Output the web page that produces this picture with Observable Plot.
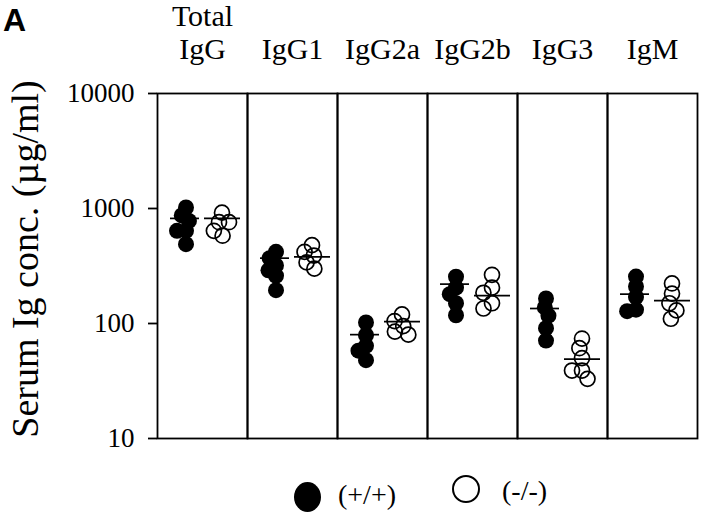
<!DOCTYPE html>
<html><head><meta charset="utf-8">
<script src="https://cdn.jsdelivr.net/npm/d3@7"></script>
<script src="https://cdn.jsdelivr.net/npm/@observablehq/plot@0.6"></script>
<style>
body{margin:0;background:#fff;}
#wrap{position:relative;width:720px;height:516px;font-family:"Liberation Serif",serif;color:#000;overflow:hidden;}
#wrap svg{position:absolute;left:0;top:0;}
.panelA{position:absolute;left:3px;top:2px;font:bold 32px "Liberation Sans",Arial,sans-serif;}
.ylab{position:absolute;left:25px;top:259px;transform:translate(-50%,-50%) rotate(-90deg);white-space:nowrap;font-size:38px;}
.leg{position:absolute;font-size:28px;white-space:nowrap;}
.sym{position:absolute;border-radius:50%;box-sizing:border-box;}
</style></head><body><div id="wrap"></div>
<script>
const categories = ["Total\nIgG", "IgG1", "IgG2a", "IgG2b", "IgG3", "IgM"];
const genotypes = ["+/+", "-/-"];
const yTicks = [10, 100, 1000, 10000];
// individual serum concentrations (µg/ml), one list per category
const wildType = [
  [1020, 870, 780, 640, 640, 490],
  [420, 370, 320, 290, 260, 195],
  [102, 79, 64, 58, 48],
  [255, 205, 180, 150, 118],
  [165, 138, 117, 91, 71],
  [256, 210, 170, 132, 128]
];
const knockout = [
  [920, 760, 760, 640, 580],
  [480, 420, 390, 340, 300],
  [120, 105, 95, 85, 80],
  [265, 205, 185, 150, 135],
  [74, 61, 50, 39, 39, 33],
  [223, 182, 150, 130, 110]
];
const wildMean = [820, 370, 80, 220, 135, 180];
const knockoutMean = [820, 380, 104, 175, 49, 158];

const rows = [];
categories.forEach((c, i) => {
  wildType[i].forEach(v => rows.push({category: c, genotype: "+/+", value: v}));
  knockout[i].forEach(v => rows.push({category: c, genotype: "-/-", value: v}));
});
const wildMeans = categories.map((c, i) => ({category: c, genotype: "+/+", value: wildMean[i]}));
const koMeans = categories.map((c, i) => ({category: c, genotype: "-/-", value: knockoutMean[i]}));

const chart = Plot.plot({
  width: 720, height: 516,
  marginTop: 93, marginBottom: 78, marginLeft: 157, marginRight: 23,
  style: {fontFamily: "Liberation Serif", background: "white", color: "black"},
  fx: {domain: categories, padding: 0, label: null},
  x: {type: "band", domain: genotypes, padding: 0, axis: null},
  y: {type: "log", domain: [10, 10000]},
  marks: [
    Plot.frame({stroke: "black", strokeWidth: 1.8}),
    Plot.axisFx({anchor: "top", tickSize: 0, tickPadding: 35, fontSize: 30, lineHeight: 1.07, label: null}),
    Plot.axisY({ticks: yTicks, tickFormat: d => String(d), tickSize: 9, tickPadding: 14, fontSize: 27, label: null, strokeWidth: 1.8}),
    Plot.dot(rows.filter(d => d.genotype === "+/+"),
      Plot.dodgeX({anchor: "middle", padding: -7},
        {fx: "category", y: "value", r: 8, fill: "black", dx: -39})),
    Plot.dot(rows.filter(d => d.genotype === "-/-"),
      Plot.dodgeX({anchor: "middle", padding: -5},
        {fx: "category", y: "value", r: 7.5, fill: "none", stroke: "black", strokeWidth: 1.7, dx: -3})),
    Plot.tickY(wildMeans, {fx: "category", x: "genotype", y: "value", stroke: "black", strokeWidth: 1.7, insetLeft: 13, insetRight: 3}),
    Plot.tickY(koMeans, {fx: "category", x: "genotype", y: "value", stroke: "black", strokeWidth: 1.7, insetLeft: 2, insetRight: 7})
  ]
});
const wrap = document.getElementById("wrap");
wrap.appendChild(chart);
wrap.insertAdjacentHTML("beforeend", `
<div class="panelA">A</div>
<div class="ylab">Serum Ig conc. (µg/ml)</div>
<div class="sym" style="left:294px;top:482px;width:27px;height:30px;background:#000"></div>
<div class="leg" style="left:338px;top:479px">(+/+)</div>
<div class="sym" style="left:452px;top:475px;width:28px;height:28px;border:2px solid #000"></div>
<div class="leg" style="left:502px;top:475px">(-/-)</div>
`);
</script>
</body></html>
